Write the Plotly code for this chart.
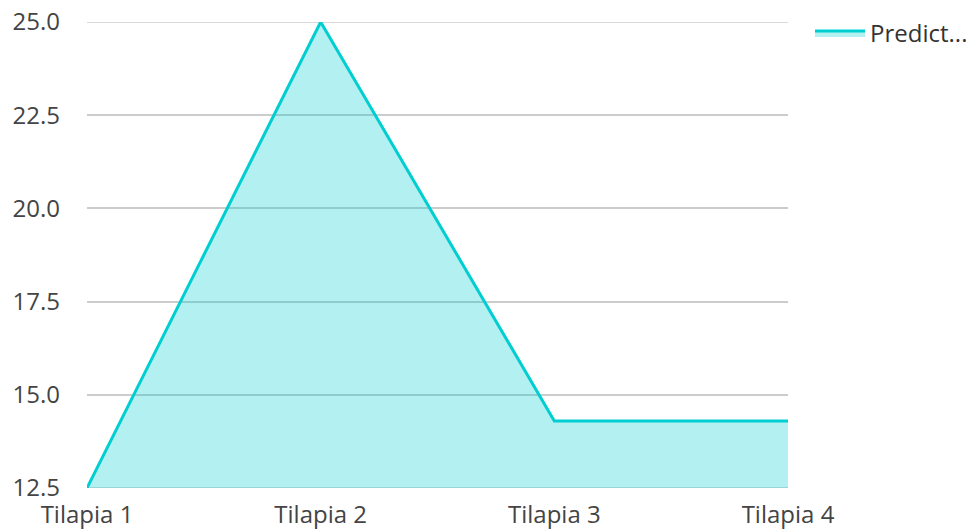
import plotly.graph_objects as go

categories = ["Tilapia 1", "Tilapia 2", "Tilapia 3", "Tilapia 4"]
predicted = [12.5, 25.0, 14.3, 14.3]
series_name = "Predict..."
y_ticks = [12.5, 15.0, 17.5, 20.0, 22.5, 25.0]

fig = go.Figure()
fig.add_trace(go.Scatter(
    x=categories, y=predicted, name=series_name, mode="lines",
    line=dict(color="#00CED1", width=3),
    fill="tozeroy", fillcolor="rgba(0,206,209,0.3)",
))

# edge gridlines (plotly hides gridlines lying on the plot edges)
for v in (y_ticks[0], y_ticks[-1]):
    fig.add_shape(type="line", xref="paper", x0=0, x1=1, yref="y", y0=v, y1=v,
                  line=dict(color="#cccccc", width=1.5), layer="below")

fig.update_layout(
    width=974, height=531,
    margin=dict(l=79, r=194, t=14, b=51, autoexpand=False),
    plot_bgcolor="white", paper_bgcolor="white",
    font=dict(family="Open Sans", size=24, color="#444"),
    showlegend=True,
    legend=dict(x=1.0314, y=1.024, xanchor="left", yanchor="top",
                font=dict(size=24, color="#333"), itemwidth=50),
    xaxis=dict(range=[0, 3], showgrid=False, showline=False, zeroline=False,
               ticks="", ticklabelstandoff=10, automargin=False,
               ticklabeloverflow="allow"),
    yaxis=dict(range=[12.5, 25.0], tickvals=y_ticks, ticktext=[f"{v:.1f}" for v in y_ticks],
               showgrid=True, gridcolor="#cccccc", gridwidth=1.5, zeroline=False,
               showline=False, ticks="", ticklabelstandoff=26, automargin=False,
               ticklabeloverflow="allow"),
)

fig.write_html("out.html")
